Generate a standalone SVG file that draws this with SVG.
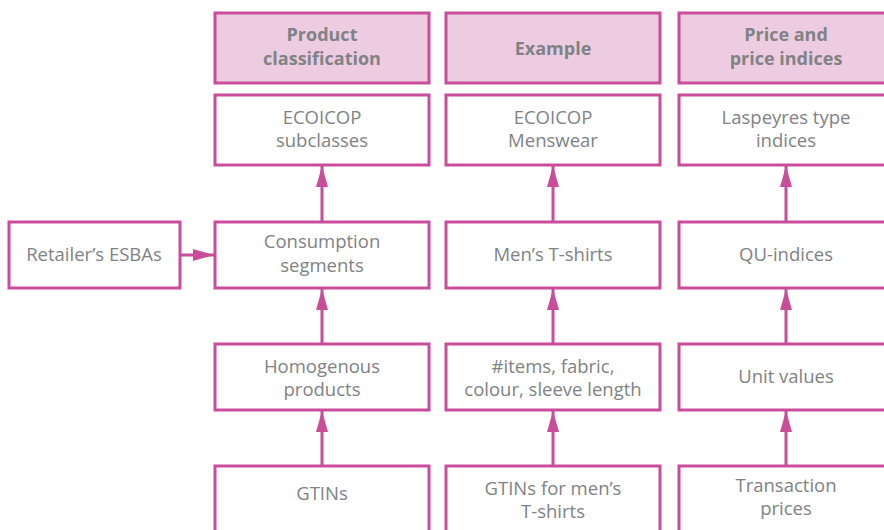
<svg xmlns="http://www.w3.org/2000/svg" width="884" height="530" viewBox="0 0 884 530">
<defs>
<style>
.b{fill:#fff;stroke:#C94D9B;stroke-width:3}
.h{fill:#EDCCE1;stroke:#C94D9B;stroke-width:3}
.t{font-family:"Open Sans","Liberation Sans",sans-serif;font-size:18.5px;fill:#808285;text-anchor:middle}
.ht{font-family:"Open Sans","Liberation Sans",sans-serif;font-size:18px;font-weight:bold;fill:#808285;text-anchor:middle}
.c{stroke:#C94D9B;stroke-width:3;fill:none}
</style>
<marker id="ah" viewBox="0 0 21 12" refX="21" refY="6" markerWidth="21" markerHeight="12" markerUnits="userSpaceOnUse" orient="auto">
<path d="M0,0 L21,6 L0,12 Z" fill="#C94D9B"/>
</marker>
</defs>
<rect width="884" height="530" fill="#fff"/>
<g id="connectors">
<line class="c" x1="180" y1="255" x2="214" y2="255" marker-end="url(#ah)"/>
<line class="c" x1="322" y1="222" x2="322" y2="166" marker-end="url(#ah)"/>
<line class="c" x1="322" y1="344" x2="322" y2="289" marker-end="url(#ah)"/>
<line class="c" x1="322" y1="466" x2="322" y2="411" marker-end="url(#ah)"/>
<line class="c" x1="553" y1="222" x2="553" y2="166" marker-end="url(#ah)"/>
<line class="c" x1="553" y1="344" x2="553" y2="289" marker-end="url(#ah)"/>
<line class="c" x1="553" y1="466" x2="553" y2="411" marker-end="url(#ah)"/>
<line class="c" x1="786" y1="222" x2="786" y2="166" marker-end="url(#ah)"/>
<line class="c" x1="786" y1="344" x2="786" y2="289" marker-end="url(#ah)"/>
<line class="c" x1="786" y1="466" x2="786" y2="411" marker-end="url(#ah)"/>
</g>
<g id="h1"><rect class="h" x="215" y="13" width="214" height="70"/><text class="ht" x="322" y="41">Product</text><text class="ht" x="322" y="65">classification</text></g>
<g id="h2"><rect class="h" x="446" y="13" width="214" height="70"/><text class="ht" x="553" y="55">Example</text></g>
<g id="h3"><rect class="h" x="679" y="13" width="214" height="70"/><text class="ht" x="786" y="41">Price and</text><text class="ht" x="786" y="65">price indices</text></g>
<g id="n11"><rect class="b" x="215" y="95" width="214" height="70"/><text class="t" x="322" y="124">ECOICOP</text><text class="t" x="322" y="147">subclasses</text></g>
<g id="n12"><rect class="b" x="446" y="95" width="214" height="70"/><text class="t" x="553" y="124">ECOICOP</text><text class="t" x="553" y="147">Menswear</text></g>
<g id="n13"><rect class="b" x="679" y="95" width="214" height="70"/><text class="t" x="786" y="124">Laspeyres type</text><text class="t" x="786" y="147">indices</text></g>
<g id="n0"><rect class="b" x="9" y="222" width="171" height="66"/><text class="t" x="94" y="261">Retailer’s ESBAs</text></g>
<g id="n21"><rect class="b" x="215" y="222" width="214" height="66"/><text class="t" x="322" y="248">Consumption</text><text class="t" x="322" y="272">segments</text></g>
<g id="n22"><rect class="b" x="446" y="222" width="214" height="66"/><text class="t" x="553" y="261">Men’s T-shirts</text></g>
<g id="n23"><rect class="b" x="679" y="222" width="214" height="66"/><text class="t" x="786" y="261">QU-indices</text></g>
<g id="n31"><rect class="b" x="215" y="344" width="214" height="66"/><text class="t" x="322" y="373">Homogenous</text><text class="t" x="322" y="396">products</text></g>
<g id="n32"><rect class="b" x="446" y="344" width="214" height="66"/><text class="t" x="553" y="373">#items, fabric,</text><text class="t" x="553" y="396">colour, sleeve length</text></g>
<g id="n33"><rect class="b" x="679" y="344" width="214" height="66"/><text class="t" x="786" y="383">Unit values</text></g>
<g id="n41"><rect class="b" x="215" y="466" width="214" height="72"/><text class="t" x="322" y="500">GTINs</text></g>
<g id="n42"><rect class="b" x="446" y="466" width="214" height="72"/><text class="t" x="553" y="495">GTINs for men’s</text><text class="t" x="553" y="518">T-shirts</text></g>
<g id="n43"><rect class="b" x="679" y="466" width="214" height="72"/><text class="t" x="786" y="492">Transaction</text><text class="t" x="786" y="515">prices</text></g>
</svg>
